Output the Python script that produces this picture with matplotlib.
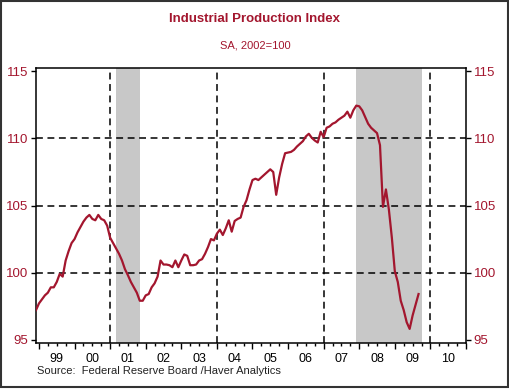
import matplotlib
matplotlib.use("Agg")
import matplotlib.pyplot as plt
import numpy as np
import pandas as pd
from matplotlib.patches import Rectangle

plt.rcParams['font.family'] = ['Liberation Sans', 'DejaVu Sans']

# monthly index, Dec 1998 .. Sep 2009 (SA, 2002=100)
start = '1998-12-01'
ip_index = [97.2,
    97.7, 98.0, 98.3, 98.5, 98.9, 98.9, 99.3, 99.9, 99.7, 100.9, 101.6, 102.2,        # 1999
    102.5, 103.0, 103.4, 103.8, 104.1, 104.3, 104.0, 103.9, 104.3, 104.0, 103.9, 103.5,  # 2000
    102.6, 102.2, 101.8, 101.4, 100.9, 100.25, 99.8, 99.3, 98.9, 98.5, 97.9, 97.9,     # 2001
    98.3, 98.4, 98.9, 99.2, 99.7, 100.9, 100.6, 100.6, 100.55, 100.4, 100.9, 100.4,    # 2002
    100.9, 101.35, 101.25, 100.55, 100.55, 100.6, 100.9, 101.0, 101.4, 101.9, 102.5, 102.4,  # 2003
    102.9, 103.2, 102.8, 103.3, 103.9, 103.05, 103.85, 104.0, 104.1, 104.9, 105.4, 106.2,   # 2004
    106.9, 107.0, 106.9, 107.1, 107.3, 107.5, 107.7, 107.5, 105.8, 107.1, 108.1, 108.9,     # 2005
    108.95, 109.0, 109.15, 109.4, 109.6, 109.8, 110.15, 110.35, 110.05, 109.85, 109.7, 110.5,  # 2006
    110.1, 110.8, 110.9, 111.1, 111.2, 111.4, 111.55, 111.7, 112.0, 111.55, 112.1, 112.45,  # 2007
    112.4, 112.1, 111.6, 111.1, 110.8, 110.6, 110.4, 109.5, 104.9, 106.2, 104.7, 102.6,    # 2008
    100.1, 99.3, 97.9, 97.2, 96.3, 95.8, 96.8, 97.6, 98.4]                                  # 2009

recession_start = ['2001-03-01', '2007-12-01']
recession_end = ['2001-11-01', '2009-10-01']

year_labels = ['99', '00', '01', '02', '03', '04', '05', '06', '07', '08', '09', '10']
years = list(range(1999, 2011))
y_ticks = [95, 100, 105, 110, 115]


def dec_year(d):
    d = pd.DatetimeIndex(d)
    return d.year + (d.month - 1) / 12.0


dates = pd.date_range(start, periods=len(ip_index), freq='MS')
x = dec_year(dates)

red = '#a3162e'
fig = plt.figure(figsize=(5.10, 3.89), dpi=100)
ax = fig.add_axes([0.0706, 0.1183, 0.8431, 0.7067])

for s, e in zip(dec_year(recession_start), dec_year(recession_end)):
    ax.axvspan(s, e, color='#c8c8c8', lw=0, zorder=0)

for yv in [100, 105, 110]:
    ax.axhline(yv, color='black', lw=1.1, ls=(0, (4.5, 3)), zorder=1)
for xv in [2001, 2004, 2007, 2010]:
    ax.axvline(xv, color='black', lw=1.1, ls=(0, (4.5, 3)), zorder=1)

ax.plot(x, ip_index, color=red, lw=1.6, zorder=3)

ax.set_xlim(1998.917, 2011.0)
ax.set_ylim(94.75, 115.25)

ax.set_xticks(np.arange(1999, 2012))
ax.set_xticks(np.arange(1999, 2011, 0.25), minor=True)
ax.set_xticklabels([])
ax.tick_params(axis='x', which='major', direction='out', length=4.5, width=1)
ax.tick_params(axis='x', which='minor', direction='out', length=2.5, width=1)
for yr, lab in zip(years, year_labels):
    ax.text(yr + 0.5, -0.035, lab, transform=ax.get_xaxis_transform(),
            ha='center', va='top', fontsize=9, color='black')

ax.set_yticks(y_ticks)
ax.tick_params(axis='y', which='both', direction='out', length=3.5, width=1,
               labelcolor=red, labelsize=9.5, left=True, right=True,
               labelleft=True, labelright=True, pad=2)

for sp in ax.spines.values():
    sp.set_linewidth(1.1)

fig.text(0.5, 0.952, 'Industrial Production Index', ha='center', va='center',
         fontsize=9.5, fontweight='bold', color=red)
fig.text(0.5, 0.884, 'SA, 2002=100', ha='center', va='center',
         fontsize=8, color=red)
fig.text(0.072, 0.047, 'Source:  Federal Reserve Board /Haver Analytics',
         ha='left', va='center', fontsize=8, color='#222222')

fig.patches.append(Rectangle((0.002, 0.004), 0.994, 0.993, transform=fig.transFigure,
                             fill=False, edgecolor='#333333', lw=1.5))

fig.savefig('out.png', dpi=100)
